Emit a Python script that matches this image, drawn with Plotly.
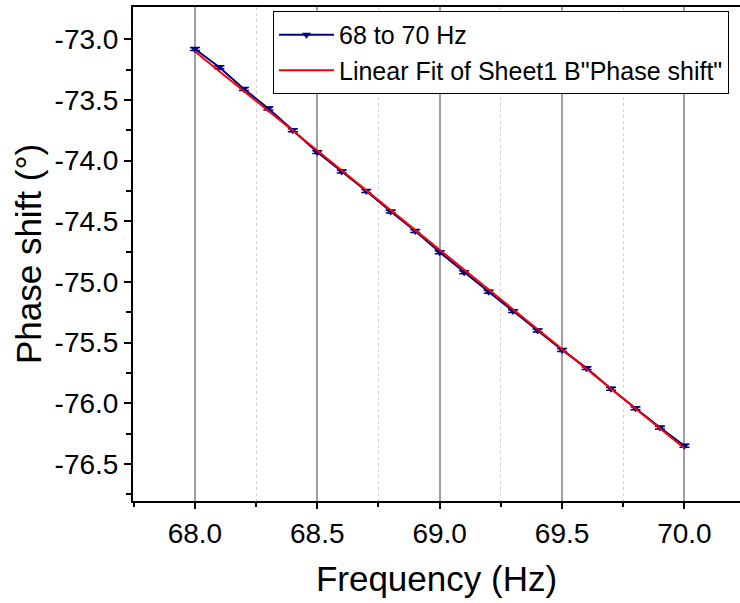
import plotly.graph_objects as go

freq = [68.0, 68.1, 68.2, 68.3, 68.4, 68.5, 68.6, 68.7, 68.8, 68.9, 69.0,
        69.1, 69.2, 69.3, 69.4, 69.5, 69.6, 69.7, 69.8, 69.9, 70.0]
phase = [-73.08, -73.23, -73.41, -73.57, -73.75, -73.93, -74.09, -74.25, -74.42, -74.58, -74.755,
         -74.92, -75.08, -75.24, -75.40, -75.56, -75.71, -75.88, -76.04, -76.20, -76.35]
phase_err = [0.012] * len(freq)

fit_x = [68.0, 70.0]
fit_y = [-73.10, -76.37]

series_name = "68 to 70 Hz"
fit_name = 'Linear Fit of Sheet1 B"Phase shift"'

FONT = "Liberation Sans, Arial, sans-serif"

fig = go.Figure()
fig.add_trace(go.Scatter(
    x=freq, y=phase, mode="lines+markers", name=series_name,
    line=dict(color="#000080", width=2),
    marker=dict(symbol="triangle-down", size=8, color="#000080"),
    error_y=dict(type="data", array=phase_err, visible=True, color="#000080", thickness=1.5, width=5),
))
fig.add_trace(go.Scatter(
    x=fit_x, y=fit_y, mode="lines", name=fit_name,
    line=dict(color="#ff0000", width=2),
))

fig.update_layout(
    width=740, height=603,
    margin=dict(l=133, r=0, t=7, b=102),
    paper_bgcolor="white", plot_bgcolor="white",
    font=dict(family=FONT, color="black"),
    showlegend=True,
    legend=dict(
        x=0.2306, y=0.992, xanchor="left", yanchor="top",
        bgcolor="white", bordercolor="black", borderwidth=1,
        font=dict(size=25, family=FONT, color="black"),
        itemwidth=55, tracegroupgap=0,
    ),
    xaxis=dict(
        range=[67.747, 70.227],
        tickmode="array", tickvals=[68.0, 68.5, 69.0, 69.5, 70.0],
        ticktext=["68.0", "68.5", "69.0", "69.5", "70.0"],
        ticks="outside", ticklen=6, tickwidth=1.5, tickcolor="black",
        showline=True, linecolor="black", linewidth=2, mirror=True,
        showgrid=True, gridcolor="#a0a0a0", gridwidth=1.5,
        zeroline=False,
        tickfont=dict(size=28, family=FONT, color="black"),
        title=dict(text="Frequency (Hz)", font=dict(size=35, family=FONT, color="black"), standoff=19),
        minor=dict(tickvals=[67.75, 68.25, 68.75, 69.25, 69.75], ticks="outside", ticklen=4,
                   tickwidth=1.5, tickcolor="black", showgrid=True, gridcolor="#d0d0d0",
                   griddash="dot", gridwidth=1),
    ),
    yaxis=dict(
        range=[-76.805, -72.734],
        tickmode="array", tickvals=[-73.0, -73.5, -74.0, -74.5, -75.0, -75.5, -76.0, -76.5],
        ticktext=["-73.0", "-73.5", "-74.0", "-74.5", "-75.0", "-75.5", "-76.0", "-76.5"],
        ticks="outside", ticklen=7, tickwidth=1.5, tickcolor="black",
        showline=True, linecolor="black", linewidth=2, mirror=False,
        showgrid=False, zeroline=False,
        tickfont=dict(size=28, family=FONT, color="black"),
        title=dict(text="Phase shift (°)", font=dict(size=35, family=FONT, color="black"), standoff=2),
        minor=dict(tickvals=[-73.25, -73.75, -74.25, -74.75, -75.25, -75.75, -76.25, -76.75],
                   ticks="outside", ticklen=5, tickwidth=1.5, tickcolor="black", showgrid=False),
    ),
)

fig.write_html("out.html")
